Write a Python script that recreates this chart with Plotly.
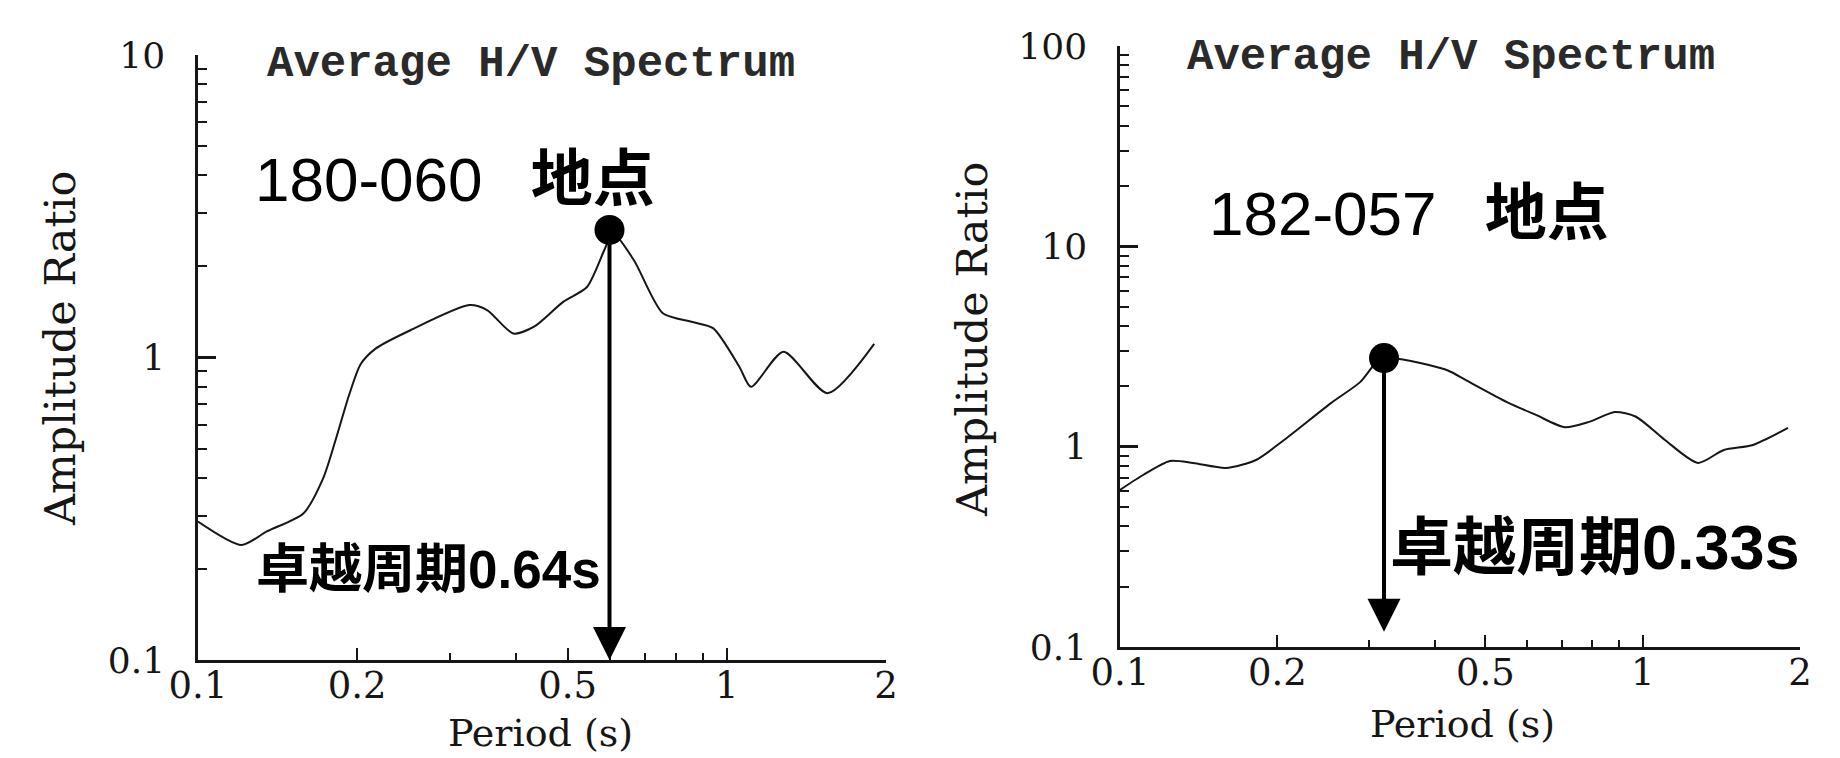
import numpy as np
import plotly.graph_objects as go

# ---------------- data ----------------
left_period = [0.100, 0.1209, 0.1349, 0.1582, 0.1726, 0.183, 0.193, 0.203, 0.2167,
               0.2527, 0.326, 0.352, 0.395, 0.432, 0.491, 0.544, 0.587, 0.609, 0.667,
               0.757, 0.861, 0.942, 1.056, 1.111, 1.28, 1.55, 1.90]
left_ratio = [0.287, 0.240, 0.266, 0.305, 0.40, 0.55, 0.75, 0.95, 1.07,
              1.233, 1.49, 1.435, 1.20, 1.264, 1.53, 1.71, 2.27, 2.58, 2.10,
              1.40, 1.31, 1.25, 0.932, 0.80, 1.045, 0.762, 1.11]
left_peak_period = 0.60
left_peak_ratio = 2.64
left_arrow_tip = 0.1

right_period = [0.100, 0.1107, 0.1246, 0.138, 0.1595, 0.182, 0.206, 0.2533, 0.288,
                0.316, 0.354, 0.424, 0.459, 0.550, 0.625, 0.710, 0.79, 0.885, 0.971,
                1.103, 1.276, 1.43, 1.626, 1.897]
right_ratio = [0.608, 0.722, 0.848, 0.829, 0.783, 0.858, 1.08, 1.65, 2.10,
               2.77, 2.70, 2.40, 2.15, 1.67, 1.44, 1.25, 1.33, 1.49, 1.41,
               1.08, 0.83, 0.963, 1.02, 1.24]
right_peak_period = 0.32
right_peak_ratio = 2.77
right_arrow_tip = 0.119

x_tickvals = [0.1, 0.2, 0.5, 1, 2]
x_ticktext = ["0.1", "0.2", "0.5", "1", "2"]
left_y_tickvals = [0.1, 1, 10]
left_y_ticktext = ["0.1", "1", "10"]
right_y_tickvals = [0.1, 1, 10, 100]
right_y_ticktext = ["0.1", "1", "10", "100"]

title_text = "Average H/V Spectrum"
y_title = "Amplitude Ratio"
x_title = "Period (s)"
left_site_code = "180-060"
right_site_code = "182-057"
site_word = "地点"
period_word = "卓越周期"
left_period_value = "0.64s"
right_period_value = "0.33s"

# ---------------- style ----------------
W, H = 1840, 758
OFF = 8  # page body margin in the browser
INK = "#161616"
SERIF = "DejaVu Serif, Liberation Serif, serif"
MONO = "Liberation Mono, Courier New, monospace"
SANS = "Liberation Sans, Arial, Noto Sans CJK JP, sans-serif"


def px_x(p):
    return (p - OFF) / W


def px_y(p):
    return 1 - (p - OFF) / H


minor_x = [m * 0.1 for m in range(3, 10) if m != 5]
minor_y = [m * d for d in (0.1, 1, 10) for m in range(2, 10)]

fig = go.Figure()

fig.add_trace(go.Scatter(x=left_period, y=left_ratio, mode="lines",
                         line=dict(color=INK, width=2, shape="spline", smoothing=0.7),
                         xaxis="x", yaxis="y", showlegend=False, hoverinfo="skip"))
fig.add_trace(go.Scatter(x=[left_peak_period], y=[left_peak_ratio], mode="markers",
                         marker=dict(color="black", size=30),
                         xaxis="x", yaxis="y", showlegend=False))
fig.add_trace(go.Scatter(x=right_period, y=right_ratio, mode="lines",
                         line=dict(color=INK, width=2, shape="spline", smoothing=0.7),
                         xaxis="x2", yaxis="y2", showlegend=False, hoverinfo="skip"))
fig.add_trace(go.Scatter(x=[right_peak_period], y=[right_peak_ratio], mode="markers",
                         marker=dict(color="black", size=30),
                         xaxis="x2", yaxis="y2", showlegend=False))


def xaxis_cfg(domain, anchor):
    return dict(type="log", range=[-1, np.log10(2)], domain=domain, anchor=anchor,
                automargin=False,
                showline=True, linecolor=INK, linewidth=3, mirror=False,
                showgrid=False, zeroline=False,
                ticks="inside", ticklen=12, tickwidth=2, tickcolor=INK,
                tickvals=x_tickvals, ticktext=x_ticktext,
                tickfont=dict(family=SERIF, size=37, color=INK),
                ticklabelstandoff=-9,
                minor=dict(ticks="inside", ticklen=7, tickwidth=2, tickcolor=INK,
                           tickvals=minor_x, showgrid=False),
                fixedrange=True)


def yaxis_cfg(domain, rng, vals, text, anchor):
    return dict(type="log", range=rng, domain=domain, anchor=anchor,
                automargin=False,
                showline=True, linecolor=INK, linewidth=2.5,
                showgrid=False, zeroline=False,
                ticks="inside", ticklen=18, tickwidth=2.5, tickcolor=INK,
                tickvals=vals, ticktext=text,
                tickfont=dict(family=SERIF, size=36, color=INK),
                ticklabelstandoff=23,
                minor=dict(ticks="inside", ticklen=9, tickwidth=2, tickcolor=INK,
                           tickvals=minor_y, showgrid=False),
                fixedrange=True)


fig.update_layout(
    width=W, height=H,
    margin=dict(l=0, r=0, t=0, b=0, pad=0, autoexpand=False),
    paper_bgcolor="white", plot_bgcolor="white",
    showlegend=False,
    xaxis=xaxis_cfg([px_x(198), px_x(886)], "y"),
    yaxis=yaxis_cfg([px_y(660), px_y(55)], [-1, 1], left_y_tickvals, left_y_ticktext, "x"),
    xaxis2=xaxis_cfg([px_x(1120), px_x(1800)], "y2"),
    yaxis2=yaxis_cfg([px_y(647), px_y(46)], [-1, 2], right_y_tickvals, right_y_ticktext, "x2"),
)


def label(code, word):
    return code + "\u2002\u00a0<b>" + word + "</b>"


def plabel(word, value):
    return "<b>" + word + value + "</b>"


ann = []
# titles
ann.append(dict(text=title_text, x=px_x(265), y=px_y(64), xref="paper", yref="paper",
                xanchor="left", yanchor="middle", showarrow=False,
                font=dict(family=MONO, size=44, color="#2a2a2a", weight="bold")))
ann.append(dict(text=title_text, x=px_x(1185), y=px_y(57), xref="paper", yref="paper",
                xanchor="left", yanchor="middle", showarrow=False,
                font=dict(family=MONO, size=44, color="#2a2a2a", weight="bold")))
# axis titles
for cx, cy in [(60, 349), (972, 340)]:
    ann.append(dict(text=y_title, x=px_x(cx), y=px_y(cy), xref="paper", yref="paper",
                    xanchor="center", yanchor="middle", showarrow=False, textangle=-90,
                    font=dict(family=SERIF, size=43, color=INK)))
for cx, cy in [(540, 733), (1462, 724)]:
    ann.append(dict(text=x_title, x=px_x(cx), y=px_y(cy), xref="paper", yref="paper",
                    xanchor="center", yanchor="middle", showarrow=False,
                    font=dict(family=SERIF, size=38, color=INK)))
# site labels
ann.append(dict(text=label(left_site_code, site_word), x=px_x(253), y=px_y(179),
                xref="paper", yref="paper", xanchor="left", yanchor="middle", showarrow=False,
                font=dict(family=SANS, size=62, color="black")))
ann.append(dict(text=label(right_site_code, site_word), x=px_x(1207), y=px_y(213),
                xref="paper", yref="paper", xanchor="left", yanchor="middle", showarrow=False,
                font=dict(family=SANS, size=62, color="black")))
# period labels
ann.append(dict(text=plabel(period_word, left_period_value), x=px_x(603), y=px_y(569),
                xref="paper", yref="paper", xanchor="right", yanchor="middle", showarrow=False,
                font=dict(family=SANS, size=53, color="black")))
ann.append(dict(text=plabel(period_word, right_period_value), x=px_x(1388), y=px_y(547),
                xref="paper", yref="paper", xanchor="left", yanchor="middle", showarrow=False,
                font=dict(family=SANS, size=63, color="black")))
# arrows from peak marker down to the axis
ann.append(dict(x=np.log10(left_peak_period), y=np.log10(left_arrow_tip),
                ax=np.log10(left_peak_period), ay=np.log10(left_peak_ratio),
                xref="x", yref="y", axref="x", ayref="y", text="",
                showarrow=True, arrowhead=2, arrowsize=1.65, arrowwidth=4,
                arrowcolor="black", standoff=0))
ann.append(dict(x=np.log10(right_peak_period), y=np.log10(right_arrow_tip),
                ax=np.log10(right_peak_period), ay=np.log10(right_peak_ratio),
                xref="x2", yref="y2", axref="x2", ayref="y2", text="",
                showarrow=True, arrowhead=2, arrowsize=1.65, arrowwidth=4,
                arrowcolor="black", standoff=0))
fig.update_layout(annotations=ann)

fig.write_html("out.html")
